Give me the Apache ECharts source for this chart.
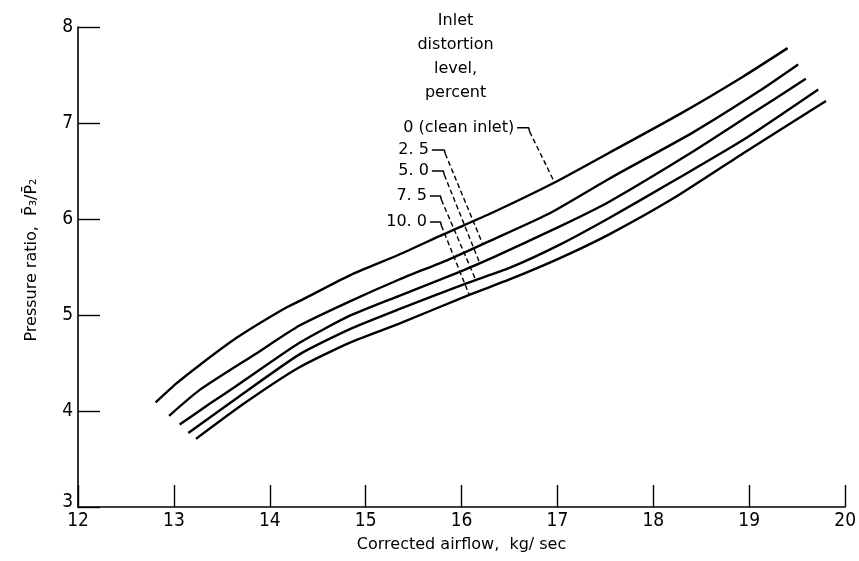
<!DOCTYPE html>
<html>
<head>
<meta charset="utf-8">
<script src="https://cdn.jsdelivr.net/npm/echarts@6/dist/echarts.min.js"></script>
<style>
  html, body { margin: 0; padding: 0; background: #fff; }
  #main { width: 859px; height: 561px; }
</style>
</head>
<body>
<div id="main"></div>
<script>
var FONT = "'DejaVu Sans', sans-serif";
var NUMFONT = "'DejaVu Sans Condensed', 'DejaVu Sans', sans-serif";

// axis ticks
var xTicks = [12, 13, 14, 15, 16, 17, 18, 19, 20];
var yTicks = [3, 4, 5, 6, 7, 8];

// curves: [airflow, pressure ratio]
var clean0 = [[12.81, 4.09], [13.03, 4.29], [13.27, 4.48], [13.65, 4.76], [14.14, 5.06], [14.34, 5.16],
  [14.83, 5.41], [15.35, 5.63], [15.81, 5.84], [16.33, 6.07], [16.97, 6.38],
  [17.54, 6.69], [18.27, 7.09], [18.93, 7.48], [19.40, 7.78]];
var dist25 = [[12.95, 3.95], [13.27, 4.22], [13.86, 4.60], [14.31, 4.89], [14.83, 5.14], [15.35, 5.37],
  [15.87, 5.58], [16.29, 5.77], [16.92, 6.06], [17.54, 6.42], [18.41, 6.90], [19.10, 7.33], [19.51, 7.61]];
var dist50 = [[13.06, 3.86], [13.38, 4.08], [13.65, 4.26], [14.31, 4.71], [14.83, 4.99], [15.35, 5.20],
  [15.98, 5.45], [16.33, 5.60], [17.02, 5.92], [17.54, 6.18], [18.41, 6.70], [19.0, 7.08], [19.59, 7.46]];
var dist75 = [[13.15, 3.77], [13.72, 4.18], [14.31, 4.59], [14.83, 4.85], [15.35, 5.06], [16.05, 5.33],
  [16.5, 5.49], [17.02, 5.73], [17.54, 6.01], [18.2, 6.39], [18.93, 6.82], [19.72, 7.35]];
var dist100 = [[13.23, 3.71], [13.72, 4.07], [14.3, 4.45], [14.83, 4.71], [15.35, 4.91], [16.08, 5.21],
  [16.5, 5.37], [17.02, 5.59], [17.54, 5.84], [18.2, 6.21], [18.93, 6.68], [19.80, 7.23]];

var curveNames = ['0 (clean inlet)', '2. 5', '5. 0', '7. 5', '10. 0'];
var curves = [clean0, dist25, dist50, dist75, dist100];

// where each leader starts (next to its label) and where it meets its curve
var leaderStart = [[16.58, 6.95], [15.69, 6.72], [15.69, 6.50], [15.67, 6.24], [15.67, 5.97]];
var leaderEnd = [[16.97, 6.38], [16.22, 5.74], [16.19, 5.54], [16.15, 5.36], [16.08, 5.21]];
var leaderCorner = [0.12, 0.13, 0.12, 0.11, 0.11];

var series = [];
curves.forEach(function (d, i) {
  series.push({
    name: curveNames[i],
    type: 'line',
    data: d,
    smooth: 0.2,
    symbol: 'none',
    lineStyle: { color: '#000', width: 2.4 },
    z: 3
  });
});
// leaders: small hook then dashed line down to the curve
leaderStart.forEach(function (s, i) {
  var cx = s[0] + leaderCorner[i];
  series.push({
    type: 'line',
    data: [s, [cx, s[1]], [cx + 0.01, s[1] - 0.04]],
    symbol: 'none',
    silent: true,
    lineStyle: { color: '#000', width: 1.5 }
  });
  series.push({
    type: 'line',
    data: [[cx + 0.01, s[1] - 0.04], leaderEnd[i]],
    symbol: 'none',
    silent: true,
    lineStyle: { color: '#000', width: 1.4, type: [5, 3] }
  });
});

var myChart = echarts.init(document.getElementById('main'));

var option = {
  animation: false,
  backgroundColor: '#fff',
  textStyle: { fontFamily: FONT },
  grid: { left: 78, right: 13, top: 27, bottom: 54 },
  xAxis: {
    type: 'value',
    min: xTicks[0],
    max: xTicks[xTicks.length - 1],
    interval: 1,
    name: 'Corrected airflow,  kg/ sec',
    nameLocation: 'middle',
    nameGap: 30,
    nameTextStyle: { fontSize: 16, color: '#000', fontFamily: FONT },
    axisLine: { onZero: false, lineStyle: { color: '#000', width: 1.6 } },
    axisTick: { inside: true, length: 22, lineStyle: { color: '#000', width: 1.4 } },
    axisLabel: { color: '#000', fontSize: 19, margin: 5, fontFamily: NUMFONT },
    splitLine: { show: false }
  },
  yAxis: {
    type: 'value',
    min: yTicks[0],
    max: yTicks[yTicks.length - 1],
    interval: 1,
    name: 'Pressure ratio,  P\u0304\u2083/P\u0304\u2082',
    nameLocation: 'middle',
    nameGap: 38,
    nameRotate: 90,
    nameTextStyle: { fontSize: 16, color: '#000', fontFamily: FONT, padding: [0, 0, 0, 14] },
    axisLine: { onZero: false, lineStyle: { color: '#000', width: 1.6 } },
    axisTick: { inside: true, length: 22, lineStyle: { color: '#000', width: 1.4 } },
    axisLabel: {
      color: '#000', fontSize: 19, margin: 5, fontFamily: NUMFONT,
      formatter: function (v) { return v === yTicks[0] ? '{low|' + v + '}' : String(v); },
      rich: { low: { fontSize: 19, fontFamily: NUMFONT, color: '#000', padding: [0, 0, 10, 0] } }
    },
    splitLine: { show: false }
  },
  series: series
};

myChart.setOption(option);

// title block and curve labels, placed from data coordinates
var graphics = [];
var head = myChart.convertToPixel('grid', [16.0, 7.9]);
graphics.push({
  type: 'text',
  x: head[0] - 6,
  y: 9,
  style: {
    text: 'Inlet\ndistortion\nlevel,\npercent',
    fill: '#000',
    font: '16px ' + FONT,
    align: 'center',
    lineHeight: 24
  }
});
leaderStart.forEach(function (s, i) {
  var p = myChart.convertToPixel('grid', s);
  graphics.push({
    type: 'text',
    x: p[0] - 3,
    y: p[1],
    style: {
      text: curveNames[i],
      fill: '#000',
      font: '16px ' + FONT,
      align: 'right',
      verticalAlign: 'middle'
    }
  });
});
myChart.setOption({ graphic: graphics });
window.onresize = myChart.resize;
</script>
</body>
</html>
